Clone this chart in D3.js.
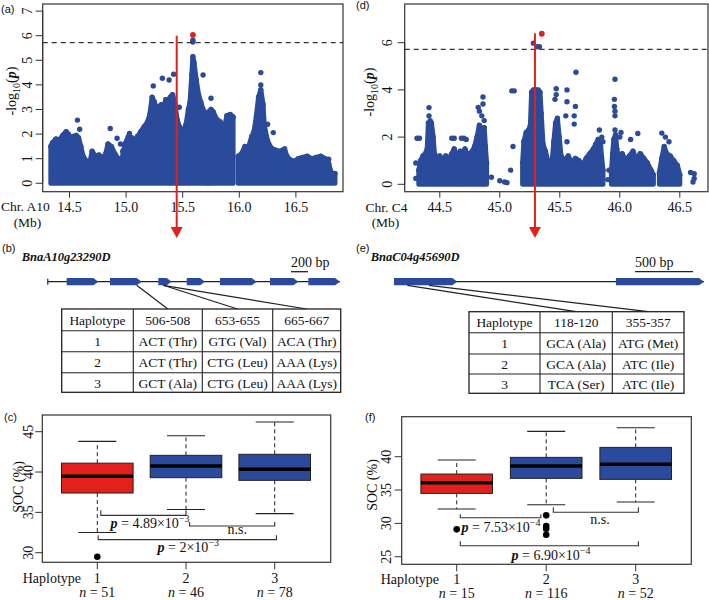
<!DOCTYPE html>
<html><head><meta charset="utf-8">
<script src="https://cdn.jsdelivr.net/npm/d3@7"></script>
<style>
body{margin:0;background:#fff}
svg{display:block}
text{font-family:"Liberation Serif","Times New Roman",Tinos,serif;fill:#111}
.lab{font-family:"Liberation Sans",Arial,sans-serif;font-size:11px}
</style>
</head><body>
<svg id="c" width="709" height="600"></svg>
<script>
// ---------------- DATA ----------------
// (a) Manhattan, chromosome A10
const a10XTicks = [14.5, 15.0, 15.5, 16.0, 16.5];
const a10YTicks = [0, 1, 2, 3, 4, 5, 6, 7];
const a10Dense = [
  [[14.335,1.5],[14.35,1.65],[14.38,1.8],[14.41,1.75],[14.44,1.95],[14.47,2.1],[14.49,2.0],[14.51,1.6],[14.53,1.9],[14.56,1.95],[14.58,1.85],[14.60,1.5],[14.62,1.1],[14.65,0.9],[14.68,0.85],[14.70,1.3],[14.73,1.1],[14.76,1.15],[14.79,1.0],[14.82,1.2],[14.84,1.6],[14.87,1.5],[14.90,1.2],[14.93,1.0],[14.96,0.9],[14.99,1.6],[15.02,1.9],[15.05,1.85],[15.08,1.7],[15.10,1.9],[15.13,2.1],[15.16,2.3],[15.19,2.5],[15.21,2.8],[15.23,3.5],[15.25,3.3],[15.27,3.0],[15.29,3.1],[15.31,3.2],[15.33,3.0],[15.35,3.4],[15.37,3.3],[15.39,3.5],[15.41,3.6],[15.43,3.3],[15.45,2.6],[15.47,2.3],[15.49,2.1],[15.51,2.2],[15.53,2.4],[15.55,3.0],[15.565,3.3],[15.58,4.4],[15.59,5.15],[15.60,4.9],[15.62,4.2],[15.64,3.6],[15.66,3.3],[15.68,3.0],[15.70,2.75],[15.72,2.7]],
  [[15.728,2.9],[15.75,3.0],[15.77,2.9],[15.80,2.6],[15.83,2.5],[15.85,2.25],[15.87,2.3],[15.89,2.75],[15.92,2.8],[15.945,2.7]],
  [[15.99,1.1],[16.02,1.2],[16.05,1.5],[16.08,1.45],[16.11,1.9],[16.13,2.1],[16.15,2.7],[16.17,3.5],[16.19,3.8],[16.21,3.2],[16.22,2.4],[16.24,1.9],[16.26,1.6],[16.29,1.4],[16.32,1.35],[16.36,1.3],[16.40,1.4],[16.42,1.1],[16.45,0.95],[16.49,0.9],[16.52,1.0],[16.56,1.05],[16.60,1.1],[16.64,1.0],[16.68,1.05],[16.72,1.1],[16.76,1.0],[16.79,0.8],[16.81,0.45],[16.845,0.4]]
];
const a10Dots = [[14.57,2.57],[14.59,2.2],[14.86,2.23],[14.92,1.83],[14.95,1.6],[14.97,1.3],[15.03,2.03],[15.24,3.96],[15.32,4.27],[15.38,4.2],[15.42,4.43],[15.47,3.09],[15.56,3.09],[15.68,4.4],[15.75,3.46],[15.59,5.82],[15.59,5.74],[16.19,4.5],[16.19,4.0],[16.30,2.06],[16.79,0.98],[16.25,2.4]];
const a10Lead = [15.59, 6.03];
const a10Gene = 15.447;

// (d) Manhattan, chromosome C4
const c4XTicks = [44.5, 45.0, 45.5, 46.0, 46.5];
const c4YTicks = [0, 2, 4, 6];
const c4Dense = [
  [[44.325,0.6],[44.34,1.0],[44.36,1.2],[44.38,1.3],[44.395,1.5],[44.405,2.6],[44.43,2.6],[44.445,2.0],[44.455,1.3],[44.48,1.1],[44.50,1.2],[44.52,1.0],[44.55,1.2],[44.58,1.1],[44.60,1.3],[44.62,1.5],[44.64,1.2]],
  [[44.655,1.0],[44.67,1.4],[44.69,1.3],[44.71,1.5],[44.73,1.2],[44.75,1.3],[44.77,1.4],[44.79,1.6],[44.81,2.0],[44.83,2.5],[44.85,2.2],[44.87,2.4],[44.88,1.6],[44.89,0.9]],
  [[45.19,0.9],[45.20,1.8],[45.22,2.2],[45.24,2.3],[45.255,2.5],[45.265,3.9],[45.28,4.0],[45.30,4.0],[45.32,4.0],[45.335,3.9],[45.345,3.0],[45.36,1.7],[45.38,1.4],[45.40,1.0],[45.42,0.8]],
  [[45.435,0.9],[45.45,1.8],[45.465,2.6],[45.48,2.8],[45.495,2.0],[45.51,1.2],[45.54,1.0],[45.57,1.2],[45.60,0.9],[45.63,1.1],[45.66,1.0],[45.69,0.8],[45.72,1.1],[45.75,1.3],[45.78,1.5],[45.80,1.7],[45.82,1.9],[45.84,1.6],[45.86,0.6]],
  [[45.93,0.5],[45.94,1.3],[45.95,1.9],[45.965,2.1],[45.975,1.5],[45.99,1.1],[46.02,1.3],[46.05,1.0],[46.08,1.2],[46.11,1.4],[46.14,1.0],[46.17,1.3],[46.20,1.1],[46.23,0.9],[46.26,0.6],[46.28,0.4]],
  [[46.33,0.5],[46.35,1.1],[46.37,1.6],[46.39,1.3],[46.42,1.2],[46.45,1.0],[46.48,0.8],[46.50,0.4]]
];
const c4Dots = [[44.30,0.9],[44.30,0.25],[44.31,1.95],[44.33,1.95],[44.41,3.25],[44.41,2.9],[44.42,2.7],[44.60,1.95],[44.62,1.95],[44.68,1.95],[44.70,1.95],[44.72,1.9],[44.82,3.26],[44.83,3.1],[44.86,3.7],[44.86,3.4],[44.85,2.9],[44.87,2.7],[44.93,0.3],[45.0,0.15],[45.06,0.07],[45.04,0.1],[45.09,0.6],[45.11,1.6],[45.10,3.96],[45.12,3.96],[45.28,5.98],[45.31,5.83],[45.33,5.83],[45.47,4.05],[45.47,3.8],[45.46,3.6],[45.56,4.0],[45.56,3.5],[45.55,2.9],[45.56,1.8],[45.635,4.75],[45.63,3.3],[45.62,2.9],[45.62,2.55],[45.83,2.3],[45.85,2.0],[45.86,1.8],[45.90,0.2],[45.91,0.6],[45.96,4.45],[45.955,3.6],[45.955,3.3],[45.96,3.1],[45.96,2.9],[45.96,2.3],[46.01,2.2],[46.09,1.9],[46.15,2.15],[46.00,2.0],[46.35,2.17],[46.38,2.0],[46.41,1.8],[46.59,0.5],[46.62,0.45],[46.61,0.1],[46.62,0.25]];
const c4Lead = [45.35, 6.38];
const c4Gene = 45.293;
const gwasThreshold = 5.72;

// (b) gene BnaA10g23290D (bp)
const geneBName = "BnaA10g23290D";
const geneBLength = 3452;
const geneBExons = [[224,598],[736,1110],[1306,1464],[1642,1858],[2035,2468],[2625,2960],[3078,3452]];
const geneBSnpBp = [1051, 1365, 1365];
const geneBScale = [2873, 3073, "200 bp"];
const tableBHeader = ["Haplotype", "506-508", "653-655", "665-667"];
const tableBRows = [["1","ACT (Thr)","GTG (Val)","ACA (Thr)"],["2","ACT (Thr)","CTG (Leu)","AAA (Lys)"],["3","GCT (Ala)","CTG (Leu)","AAA (Lys)"]];

// (e) gene BnaC04g45690D (bp)
const geneEName = "BnaC04g45690D";
const geneELength = 2672;
const geneEExons = [[0,546],[1913,2672]];
const geneESnpBp = [115, 302];
const geneEScale = [2077, 2577, "500 bp"];
const tableEHeader = ["Haplotype", "118-120", "355-357"];
const tableERows = [["1","GCA (Ala)","ATG (Met)"],["2","GCA (Ala)","ATC (Ile)"],["3","TCA (Ser)","ATC (Ile)"]];

// (c) SOC boxplots, haplotypes of A10 gene: [lowWhisker, Q1, median, Q3, highWhisker]
const haplotypes = ["1", "2", "3"];
const socYTicksC = [30, 35, 40, 45];
const socStatsC = [[32.5,37.4,39.47,41.1,43.8],[35.35,39.3,40.75,42.07,44.5],[34.85,38.97,40.33,42.2,46.2]];
const socOutC = [[29.5],[],[]];
const socNC = [51, 46, 78];
const socTestsC = [[1,2,"4.89×10","−3"],[2,3,"n.s.",""],[1,3,"2×10","−3"]];

// (f) SOC boxplots, haplotypes of C4 gene
const socYTicksF = [25, 30, 35, 40];
const socStatsF = [[32.15,34.5,36.1,37.4,39.5],[32.8,36.75,38.6,39.9,43.8],[33.2,36.6,38.85,41.4,44.35]];
const socOutF = [[29.1],[31.2,29.6,29.2,28.3],[]];
const socNF = [15, 116, 52];
const socTestsF = [[1,2,"7.53×10","−4"],[2,3,"n.s.",""],[1,3,"6.90×10","−4"]];

// ---------------- STYLE / LAYOUT ----------------
const BLUE = "#2a4a9a", RED = "#e3211c", BOXBLUE = "#2c4a9c", INK = "#222";
const boxFill = [RED, BOXBLUE, BOXBLUE];
const svg = d3.select("#c");

function plabel(x, y, s){ svg.append("text").attr("class","lab").attr("x",x).attr("y",y).text(s); }

function manhattan(o){
  const x = d3.scaleLinear().domain(o.xd).range(o.xr);
  const y = d3.scaleLinear().domain(o.yd).range(o.yr);
  const g = svg.append("g");
  const area = d3.area().x(d=>x(d[0])).y0(y(0)).y1(d=>y(d[1]));
  g.selectAll(null).data(o.dense).join("path").attr("d", area)
    .attr("fill", BLUE).attr("stroke", BLUE).attr("stroke-width", 5).attr("stroke-linejoin","round");
  g.selectAll(null).data(o.dense.flat()).join("circle")
    .attr("cx", d=>x(d[0])).attr("cy", d=>y(d[1])).attr("r", 2.7).attr("fill", BLUE);
  g.selectAll(null).data(o.dots).join("circle")
    .attr("cx", d=>x(d[0])).attr("cy", d=>y(d[1])).attr("r", 2.7).attr("fill", BLUE);
  g.append("line").attr("x1", o.box[0]).attr("x2", o.box[2]).attr("y1", y(gwasThreshold)).attr("y2", y(gwasThreshold))
    .attr("stroke","#333").attr("stroke-width",1.3).attr("stroke-dasharray","5,4");
  g.append("circle").attr("cx", x(o.lead[0])).attr("cy", y(o.lead[1])).attr("r", 2.9).attr("fill", RED);
  g.append("rect").attr("x", o.box[0]).attr("y", o.box[1]).attr("width", o.box[2]-o.box[0]).attr("height", o.box[3]-o.box[1])
    .attr("fill","none").attr("stroke","#333").attr("stroke-width",1.2);
  // y axis
  o.yt.forEach(v=>{
    g.append("line").attr("x1", o.box[0]-7).attr("x2", o.box[0]).attr("y1", y(v)).attr("y2", y(v)).attr("stroke","#333");
    g.append("text").attr("transform",`translate(${o.ylabX},${y(v)}) rotate(-90)`).attr("text-anchor","middle")
      .attr("font-size",14).text(v);
  });
  g.append("line").attr("x1", o.box[0]).attr("x2", o.box[0]).attr("y1", y(o.yt[0])).attr("y2", y(o.yt[o.yt.length-1])).attr("stroke","#333");
  const t = g.append("text").attr("transform",`translate(${o.ytitleX},${o.ytitleY}) rotate(-90)`).attr("text-anchor","middle").attr("font-size",14);
  t.append("tspan").text("-log");
  t.append("tspan").attr("font-size",10).attr("dy",4).text("10");
  t.append("tspan").attr("dy",-4).text("(");
  t.append("tspan").attr("font-weight","bold").attr("font-style","italic").text("p");
  t.append("tspan").text(")");
  // x axis
  o.xt.forEach(v=>{
    g.append("line").attr("x1", x(v)).attr("x2", x(v)).attr("y1", o.box[3]).attr("y2", o.box[3]+6).attr("stroke","#333");
    g.append("text").attr("x", x(v)).attr("y", o.xlabY).attr("text-anchor","middle").attr("font-size",14).text(v.toFixed(1));
  });
  g.append("text").attr("x", o.chrX).attr("y", o.xlabY - 0.5).attr("font-size",13.5).text(o.chr);
  g.append("text").attr("x", o.mbX).attr("y", o.xlabY + 15).attr("text-anchor","middle").attr("font-size",13.5).text("(Mb)");
  // red arrow to gene
  const ax = x(o.gene);
  g.append("line").attr("x1", ax).attr("x2", ax).attr("y1", o.arrowTop).attr("y2", 229).attr("stroke", RED).attr("stroke-width", 2);
  g.append("path").attr("d", `M${ax-6},227 L${ax+6},227 L${ax},238 Z`).attr("fill", RED);
}

function geneModel(o){
  const x = d3.scaleLinear().domain([0, o.len]).range([o.x0, o.x1]);
  const g = svg.append("g");
  const yc = o.y;
  g.append("line").attr("x1", x(0)).attr("x2", x(o.len)).attr("y1", yc).attr("y2", yc).attr("stroke", INK).attr("stroke-width", 1.2);
  if (o.startTick) g.append("line").attr("x1", x(0)).attr("x2", x(0)).attr("y1", yc-3).attr("y2", yc+3).attr("stroke", BLUE).attr("stroke-width", 1.5);
  g.selectAll(null).data(o.exons).join("path").attr("fill", BLUE).attr("d", d=>{
    const s = x(d[0]), e = x(d[1]), tip = Math.min(5, (e-s)/2);
    return `M${s},${yc-3.6} L${e-tip},${yc-3.6} L${e},${yc} L${e-tip},${yc+3.6} L${s},${yc+3.6} Z`;
  });
  g.append("text").attr("x", o.nameX).attr("y", o.nameY).attr("font-size",12.5).attr("font-weight","bold").attr("font-style","italic").text(o.name);
  const sc = o.scale;
  g.append("text").attr("x", x(sc[0])).attr("y", yc-15).attr("font-size",14).text(sc[2]);
  g.append("line").attr("x1", x(sc[0])).attr("x2", x(sc[1])).attr("y1", yc-10).attr("y2", yc-10).attr("stroke", INK).attr("stroke-width",1.3);
  // connectors to table columns
  o.snps.forEach((bp,i)=>{
    const cx = (o.cols[i+1] + o.cols[i+2]) / 2;
    g.append("line").attr("x1", x(bp)).attr("y1", yc+3.6).attr("x2", cx).attr("y2", o.rows[0]).attr("stroke", INK).attr("stroke-width",1.2);
  });
  // table
  const cols = o.cols, rows = o.rows;
  g.append("rect").attr("x", cols[0]).attr("y", rows[0]).attr("width", cols[cols.length-1]-cols[0]).attr("height", rows[rows.length-1]-rows[0])
    .attr("fill","#fff").attr("stroke", INK).attr("stroke-width",1.3);
  cols.slice(1,-1).forEach(c=> g.append("line").attr("x1",c).attr("x2",c).attr("y1",rows[0]).attr("y2",rows[rows.length-1]).attr("stroke",INK).attr("stroke-width",1.1));
  rows.slice(1,-1).forEach(r=> g.append("line").attr("x1",cols[0]).attr("x2",cols[cols.length-1]).attr("y1",r).attr("y2",r).attr("stroke",INK).attr("stroke-width",1.1));
  [o.header].concat(o.body).forEach((row, ri)=>{
    row.forEach((cell, ci)=>{
      g.append("text").attr("x", (cols[ci]+cols[ci+1])/2).attr("y", (rows[ri]+rows[ri+1])/2 + 5)
        .attr("text-anchor","middle").attr("font-size",13.5).text(cell);
    });
  });
}

function boxplot(o){
  const x = d3.scalePoint().domain(haplotypes).range(o.xr);
  const xg = d3.scaleLinear().domain([1,3]).range(o.xr);
  const y = d3.scaleLinear().domain(o.yd).range(o.yr);
  const g = svg.append("g");
  const hw = 35.8, cap = 19;
  o.stats.forEach((s,i)=>{
    const cx = x(haplotypes[i]);
    g.append("line").attr("x1",cx).attr("x2",cx).attr("y1",y(s[3])).attr("y2",y(s[4])).attr("stroke",INK).attr("stroke-dasharray","4,3");
    g.append("line").attr("x1",cx).attr("x2",cx).attr("y1",y(s[1])).attr("y2",y(s[0])).attr("stroke",INK).attr("stroke-dasharray","4,3");
    [s[0], s[4]].forEach(v=> g.append("line").attr("x1",cx-cap).attr("x2",cx+cap).attr("y1",y(v)).attr("y2",y(v)).attr("stroke",INK).attr("stroke-width",1.1));
    g.append("rect").attr("x",cx-hw).attr("width",2*hw).attr("y",y(s[3])).attr("height",y(s[1])-y(s[3]))
      .attr("fill",boxFill[i]).attr("stroke",INK).attr("stroke-width",1);
    g.append("line").attr("x1",cx-hw).attr("x2",cx+hw).attr("y1",y(s[2])).attr("y2",y(s[2])).attr("stroke","#000").attr("stroke-width",3.5);
    g.selectAll(null).data(o.out[i]).join("circle").attr("cx",cx).attr("cy",d=>y(d)).attr("r",3.3).attr("fill","#000");
  });
  g.append("rect").attr("x",o.box[0]).attr("y",o.box[1]).attr("width",o.box[2]-o.box[0]).attr("height",o.box[3]-o.box[1])
    .attr("fill","none").attr("stroke","#333").attr("stroke-width",1.2);
  o.yt.forEach(v=>{
    g.append("line").attr("x1",o.box[0]-7).attr("x2",o.box[0]).attr("y1",y(v)).attr("y2",y(v)).attr("stroke","#333");
    g.append("text").attr("transform",`translate(${o.ylabX},${y(v)}) rotate(-90)`).attr("text-anchor","middle").attr("font-size",14).text(v);
  });
  g.append("text").attr("transform",`translate(${o.ytitleX},${o.ytitleY}) rotate(-90)`).attr("text-anchor","middle").attr("font-size",14).text("SOC (%)");
  haplotypes.forEach((h,i)=>{
    const cx = x(h);
    g.append("line").attr("x1",cx).attr("x2",cx).attr("y1",o.box[3]).attr("y2",o.box[3]+7).attr("stroke","#333");
    g.append("text").attr("x",cx).attr("y",o.hapY).attr("text-anchor","middle").attr("font-size",14).text(h);
    const n = g.append("text").attr("x",cx).attr("y",o.nY).attr("text-anchor","middle").attr("font-size",14);
    n.append("tspan").attr("font-style","italic").text("n");
    n.append("tspan").text(" = " + o.n[i]);
  });
  g.append("text").attr("x",o.hapX).attr("y",o.hapY).attr("font-size",14).text("Haplotype");
  // significance brackets
  o.tests.forEach((t,i)=>{
    const b = o.brackets[i];
    const x1 = xg(t[0]+b.dx1), x2 = xg(t[1]+b.dx2), yy = y(b.v);
    g.append("path").attr("d",`M${x1},${yy-b.h} L${x1},${yy} L${x2},${yy} L${x2},${yy-b.h}`).attr("fill","none").attr("stroke","#333").attr("stroke-width",1.1);
    const tx = g.append("text").attr("x",b.lx).attr("y",b.ly).attr("text-anchor","middle").attr("font-size",14);
    if (t[3] === "") { tx.text(t[2]); }
    else {
      tx.append("tspan").attr("font-weight","bold").attr("font-style","italic").text("p");
      tx.append("tspan").text(" = " + t[2]);
      tx.append("tspan").attr("dy",-6).attr("font-size",10).text(t[3]);
    }
  });
}

// ---------------- DRAW ----------------
manhattan({xd:[14.5,16.5], xr:[69.5,295.9], yd:[0,7], yr:[183.3,11.1], box:[42.7,4,343,191.7],
  dense:a10Dense, dots:a10Dots, lead:a10Lead, yt:a10YTicks, xt:a10XTicks, ylabX:31.7, ytitleX:16, ytitleY:91,
  xlabY:211.5, chr:"Chr. A10", chrX:1, mbX:27.5, gene:a10Gene, arrowTop:35.7});
manhattan({xd:[44.5,46.5], xr:[439.8,679.8], yd:[0,6], yr:[184.3,42.7], box:[404.7,4,708,191.7],
  dense:c4Dense, dots:c4Dots, lead:c4Lead, yt:c4YTicks, xt:c4XTicks, ylabX:391.5, ytitleX:374, ytitleY:92,
  xlabY:212, chr:"Chr. C4", chrX:365.5, mbX:385.5, gene:c4Gene, arrowTop:33.3});

geneModel({len:geneBLength, x0:47.7, x1:340, y:281.7, startTick:true, exons:geneBExons, name:geneBName, nameX:21.7, nameY:261,
  scale:geneBScale, snps:geneBSnpBp, cols:[61.7,133.3,202.3,272.7,340.7], rows:[309,330.7,351.7,372.7,392.3],
  header:tableBHeader, body:tableBRows});
geneModel({len:geneELength, x0:394, x1:704, y:281.7, startTick:false, exons:geneEExons, name:geneEName, nameX:370.7, nameY:261,
  scale:geneEScale, snps:geneESnpBp, cols:[469,540,612.3,684], rows:[311.7,332.7,354,374,393.3],
  header:tableEHeader, body:tableERows});

boxplot({xr:[97.3,274.7], yd:[30,45], yr:[552.7,431.7], box:[42.3,415,330.7,562.3], stats:socStatsC, out:socOutC, n:socNC,
  yt:socYTicksC, ylabX:33, ytitleX:23, ytitleY:487, hapY:583, nY:597, hapX:22.7, tests:socTestsC,
  brackets:[{dx1:0.04,dx2:0,v:34.63,h:5,lx:150,ly:528},{dx1:0.04,dx2:0,v:33.31,h:4,lx:237.3,ly:534},{dx1:0.01,dx2:0.02,v:31.62,h:4.5,lx:188.3,ly:551.5}]});
boxplot({xr:[456.7,635.7], yd:[25,40], yr:[556.7,456.7], box:[401.7,416.7,691.3,564.3], stats:socStatsF, out:socOutF, n:socNF,
  yt:socYTicksF, ylabX:390.5, ytitleX:377, ytitleY:485, hapY:584, nY:598, hapX:380.7, tests:socTestsF,
  brackets:[{dx1:0.04,dx2:-0.06,v:30.85,h:3.5,lx:501,ly:531.5},{dx1:0.08,dx2:0.03,v:31.66,h:5,lx:600,ly:523.5},{dx1:0.04,dx2:0.03,v:26.65,h:4.4,lx:551,ly:560}]});

plabel(1, 13, "(a)"); plabel(356, 9, "(d)");
plabel(2, 252, "(b)"); plabel(356, 252, "(e)");
plabel(4, 421, "(c)"); plabel(365, 421, "(f)");
</script>
</body></html>
